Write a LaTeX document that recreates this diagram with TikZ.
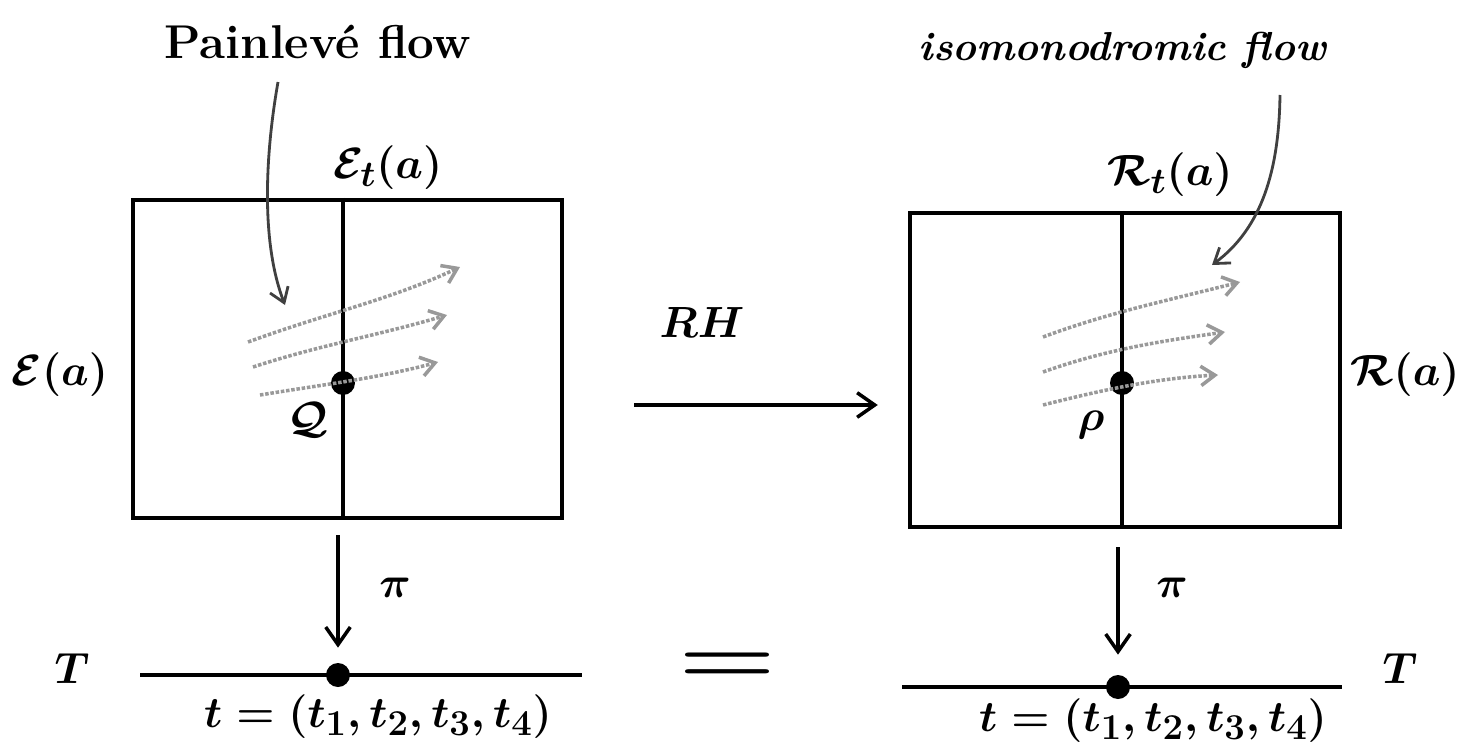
\documentclass[tikz,border=0pt]{standalone}
\usepackage{amsmath,amssymb}
\usepackage{tikz}
\usetikzlibrary{arrows.meta,positioning,calc}
\tikzset{
  bigtxt/.style={font=\fontsize{29}{33}\selectfont\boldmath\bfseries},
  spacebox/.style={rectangle, draw=black, line width=2.6pt, inner sep=0pt},
  fibre/.style={draw=black, line width=2.4pt},
  baseln/.style={draw=black, line width=2.2pt},
  ptdot/.style={circle, fill=black, inner sep=0pt, minimum size=0.48cm},
  arr/.style={-{Straight Barb[length=10pt,width=14pt,line width=2pt]}, line width=2pt, draw=black},
  flowarr/.style={-{Straight Barb[length=8pt,width=11pt]}, line width=2pt, draw=black!40, densely dotted},
  pointer/.style={-{Straight Barb[length=8pt,width=11pt]}, line width=1.6pt, draw=black!75},
}
\begin{document}
\begin{tikzpicture}[x=0.02cm, y=-0.02cm]
  \useasboundingbox (0,0) rectangle (1471,754);
  % the two total spaces
  \node[spacebox, minimum width=8.58cm, minimum height=6.36cm] (Ebox) at (347.5,359) {};
  \node[spacebox, minimum width=8.6cm, minimum height=6.28cm] (Rbox) at (1125,370) {};
  % fibres over t
  \node[ptdot] (Q) at (343,383) {};
  \node[ptdot] (rho) at (1122,383) {};
  \draw[fibre] (Ebox.north -| Q) -- (Ebox.south -| Q);
  \draw[fibre] (Rbox.north -| rho) -- (Rbox.south -| rho);
  % flows
  \draw[flowarr] (248,342) .. controls (330,312) and (390,300) .. (460,267);
  \draw[flowarr] (253,367) .. controls (320,345) and (380,335) .. (447,315);
  \draw[flowarr] (260,395) .. controls (320,385) and (380,378) .. (438,362);
  \draw[flowarr] (1043,337) .. controls (1110,312) and (1170,300) .. (1240,282);
  \draw[flowarr] (1043,372) .. controls (1110,348) and (1170,340) .. (1225,332);
  \draw[flowarr] (1043,405) .. controls (1110,388) and (1160,378) .. (1218,375);
  % labels
  \node[bigtxt] (Elabel) at (60,375) {$\mathcal{E}(a)$};
  \node[bigtxt] (Etlabel) at (388,168) {$\mathcal{E}_t(a)$};
  \node[bigtxt] (Qlabel) at (308,420) {$\mathcal{Q}$};
  \node[bigtxt] (Rlabel) at (1405,375) {$\mathcal{R}(a)$};
  \node[bigtxt] (Rtlabel) at (1170,175) {$\mathcal{R}_t(a)$};
  \node[bigtxt] (rholabel) at (1091,425) {$\rho$};
  \node[bigtxt, font=\fontsize{27}{31}\selectfont\bfseries] (PVtext) at (318,42) {Painlev\'e flow};
  \node[bigtxt, font=\fontsize{23}{27}\selectfont\bfseries] (IMtext) at (1123,50) {\textit{isomonodromic flow}};
  \draw[pointer] (278,82) .. controls (266,150) and (260,240) .. (285,305);
  \draw[pointer] (1280,95) .. controls (1279,170) and (1262,228) .. (1212,265);
  % Riemann-Hilbert map
  \node[bigtxt] (RH) at (702,322) {$RH$};
  \draw[arr] ($(Ebox.east)+(70,46)$) -- ($(Rbox.west)+(-30,35)$);
  % base T
  \node[ptdot] (tL) at (338,675) {};
  \node[ptdot] (tR) at (1118,687) {};
  \draw[baseln] (140,675) -- (582,675);
  \draw[baseln] (902,687) -- (1342,687);
  \draw[arr] ([yshift=-0.3cm]Ebox.south -| tL) -- ([yshift=0.3cm]tL.north);
  \draw[arr] ([yshift=-0.36cm]Rbox.south -| tR) -- ([yshift=0.4cm]tR.north);
  \node[bigtxt] (piL) at (395,588) {$\pi$};
  \node[bigtxt] (piR) at (1172,588) {$\pi$};
  \node[bigtxt] (TL) at (72,668) {$T$};
  \node[bigtxt] (TR) at (1400,668) {$T$};
  \node[bigtxt] (tvalL) at (378,717) {$t = (t_1, t_2, t_3, t_4)$};
  \node[bigtxt] (tvalR) at (1153,721) {$t=(t_1,t_2,t_3,t_4)$};
  \node[bigtxt] (eq) at (728,668) {\scalebox{2.2}[1.5]{=}};
\end{tikzpicture}
\end{document}
